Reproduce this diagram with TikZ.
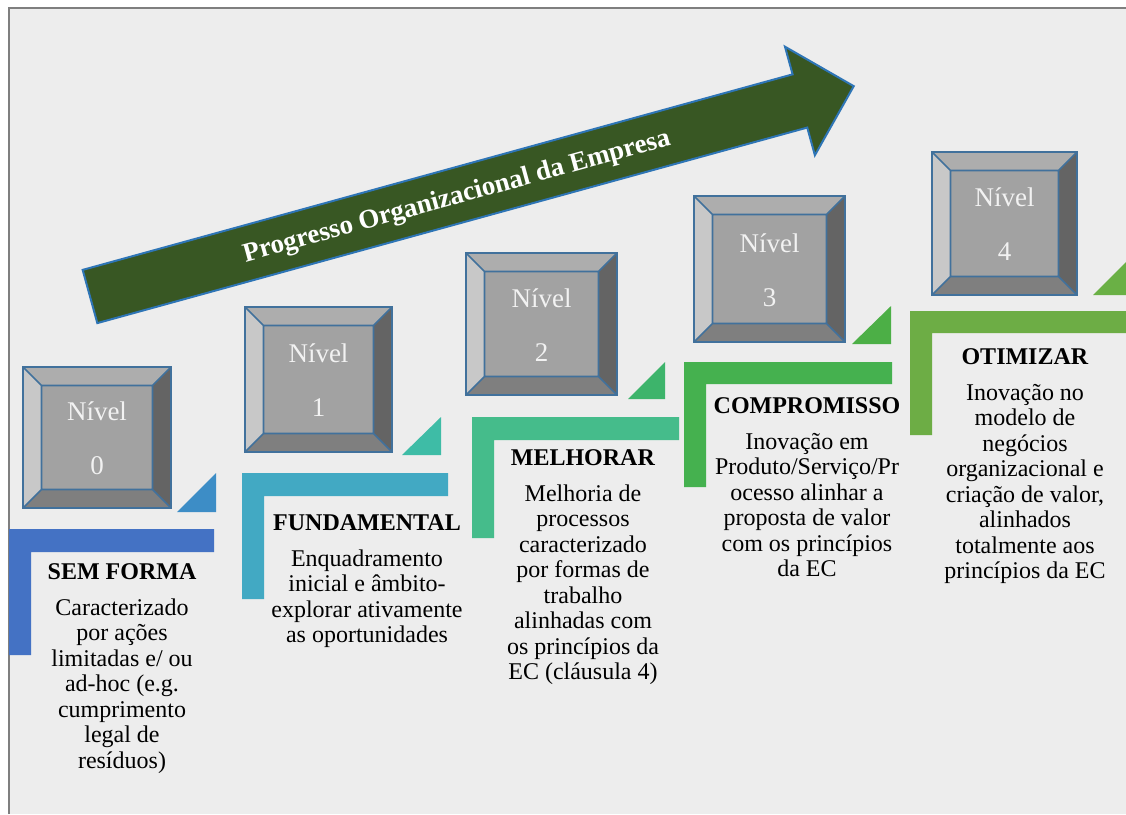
\documentclass[tikz,border=0pt]{standalone}
\usepackage{fontspec}
\setmainfont{Liberation Serif}
\usetikzlibrary{calc}
\definecolor{panelbg}{HTML}{EDEDED}
\definecolor{panelline}{HTML}{7F7F7F}
\definecolor{bevelblue}{HTML}{41719C}
\definecolor{ftop}{HTML}{ADADAD}
\definecolor{fleft}{HTML}{C8C8C8}
\definecolor{fright}{HTML}{646464}
\definecolor{fbottom}{HTML}{7F7F7F}
\definecolor{fcenter}{HTML}{A2A2A2}
\definecolor{arrowgreen}{HTML}{385723}
\definecolor{arrowblue}{HTML}{2E75B6}
\definecolor{lzero}{HTML}{4472C4}
\definecolor{lone}{HTML}{42A9C3}
\definecolor{ltwo}{HTML}{45BC8B}
\definecolor{lthree}{HTML}{45B14F}
\definecolor{lfour}{HTML}{6DAD45}
\definecolor{tzero}{HTML}{3D8DC6}
\definecolor{tone}{HTML}{3EBCA6}
\definecolor{ttwo}{HTML}{3DB46B}
\definecolor{tthree}{HTML}{4CAF46}
\definecolor{tfour}{HTML}{6AB045}
\tikzset{
  bevelline/.style={draw=bevelblue, line width=1.6pt, line join=round},
  boxframe/.style={draw=bevelblue, line width=2pt, inner sep=0pt},
  lvltext/.style={text=white!95!black, font=\fontsize{27}{30}\selectfont, inner sep=0pt},
  blocktext/.style={align=center, inner sep=0pt, text=black,
    font=\fontsize{24}{25.5}\selectfont},
  arrowtext/.style={text=white, font=\bfseries\fontsize{27}{30}\selectfont, inner sep=0pt}
}
\newcommand\mylevelbox[6]{%
  \coordinate (#1a) at (#2-#4/2,#3-#5/2);
  \coordinate (#1b) at (#2+#4/2,#3-#5/2);
  \coordinate (#1c) at (#2+#4/2,#3+#5/2);
  \coordinate (#1d) at (#2-#4/2,#3+#5/2);
  \coordinate (#1A) at ($(#1a)+(18.5,18.5)$);
  \coordinate (#1B) at ($(#1b)+(-18.5,18.5)$);
  \coordinate (#1C) at ($(#1c)+(-18.5,-18.5)$);
  \coordinate (#1D) at ($(#1d)+(18.5,-18.5)$);
  \fill[ftop] (#1a)--(#1b)--(#1B)--(#1A)--cycle;
  \fill[fright] (#1b)--(#1c)--(#1C)--(#1B)--cycle;
  \fill[fbottom] (#1c)--(#1d)--(#1D)--(#1C)--cycle;
  \fill[fleft] (#1d)--(#1a)--(#1A)--(#1D)--cycle;
  \fill[fcenter] (#1A) rectangle (#1C);
  \draw[bevelline] (#1a)--(#1A) (#1b)--(#1B) (#1c)--(#1C) (#1d)--(#1D) (#1A) rectangle (#1C);
  \node (#1) [boxframe, minimum width=#4pt, minimum height=#5pt] at (#2,#3) {};
  \node (#1n) [lvltext] at (#2,#3-26) {Nível};
  \node (#1l) [lvltext] at (#2,#3+28.5) {#6};
}
\begin{document}
\begin{tikzpicture}[x=1pt,y=-1pt]
\useasboundingbox (0,0) rectangle (1126,814);
\fill[white] (0,0) rectangle (1126,814);
\fill[panelbg] (9,8) rectangle (1126,814);
\draw[panelline, line width=1.5pt] (9,814) -- (9,8) -- (1126,8);
\begin{scope}
\clip (9,8) rectangle (1126,814);
% L shapes
\fill[lzero] (9,529) -- (214,529) -- (214,552) -- (31,552) -- (31,655) -- (9,655) -- cycle;
\fill[lone] (242,473) -- (448,473) -- (448,496) -- (264,496) -- (264,599) -- (242,599) -- cycle;
\fill[ltwo] (472,417) -- (679,417) -- (679,440) -- (494,440) -- (494,538) -- (472,538) -- cycle;
\fill[lthree] (684,362) -- (892,362) -- (892,384) -- (706,384) -- (706,487) -- (684,487) -- cycle;
\fill[lfour] (910,311) -- (1130,311) -- (1130,333) -- (932,333) -- (932,435) -- (910,435) -- cycle;
% triangles
\fill[tzero] (177,512) -- (216,473) -- (216,512) -- cycle;
\fill[tone] (402,455) -- (441,417) -- (441,455) -- cycle;
\fill[ttwo] (628,399) -- (665,362) -- (665,399) -- cycle;
\fill[tthree] (852,344) -- (891,306) -- (891,344) -- cycle;
\fill[tfour] (1093,295) -- (1133,255) -- (1133,295) -- cycle;
\end{scope}
% arrow
\begin{scope}[shift={(90,296.5)}, rotate=15.4]
\filldraw[fill=arrowgreen, draw=arrowblue, line width=2pt, line join=miter]
  (0,-27.6) -- (736.4,-27.6) -- (736.4,-56.3) -- (792.2,0) -- (736.4,56.3) -- (736.4,27.6) -- (0,27.6) -- cycle;
\node (progress) [arrowtext, rotate=15.4] at (380,2) {Progresso Organizacional da Empresa};
\end{scope}
% level boxes
\mylevelbox{box0}{97}{437.5}{148}{141}{0}
\mylevelbox{box1}{318.5}{379.5}{147}{145}{1}
\mylevelbox{box2}{541.5}{324}{151}{142}{2}
\mylevelbox{box3}{769.5}{269}{151}{146}{3}
\mylevelbox{box4}{1004.5}{223.5}{145}{143}{4}
% text blocks
\node (txt0) [blocktext, anchor=north] at (122,563) {\textbf{SEM FORMA}\\[10.5pt]Caracterizado\\por ações\\limitadas e/ ou\\ad-hoc (e.g.\\cumprimento\\legal de\\resíduos)};
\node (txt1) [blocktext, anchor=north] at (367,514) {\textbf{FUNDAMENTAL}\\[10.5pt]Enquadramento\\inicial e âmbito-\\explorar ativamente\\as oportunidades};
\node (txt2) [blocktext, anchor=north] at (583,449) {\textbf{MELHORAR}\\[10.5pt]Melhoria de\\processos\\caracterizado\\por formas de\\trabalho\\alinhadas com\\os princípios da\\EC (cláusula 4)};
\node (txt3) [blocktext, anchor=north] at (807,397) {\textbf{COMPROMISSO}\\[10.5pt]Inovação em\\Produto/Serviço/Pr\\ocesso alinhar a\\proposta de valor\\com os princípios\\da EC};
\node (txt4) [blocktext, anchor=north] at (1025,348) {\textbf{OTIMIZAR}\\[10.5pt]Inovação no\\modelo de\\negócios\\organizacional e\\criação de valor,\\alinhados\\totalmente aos\\princípios da EC};
\end{tikzpicture}
\end{document}
